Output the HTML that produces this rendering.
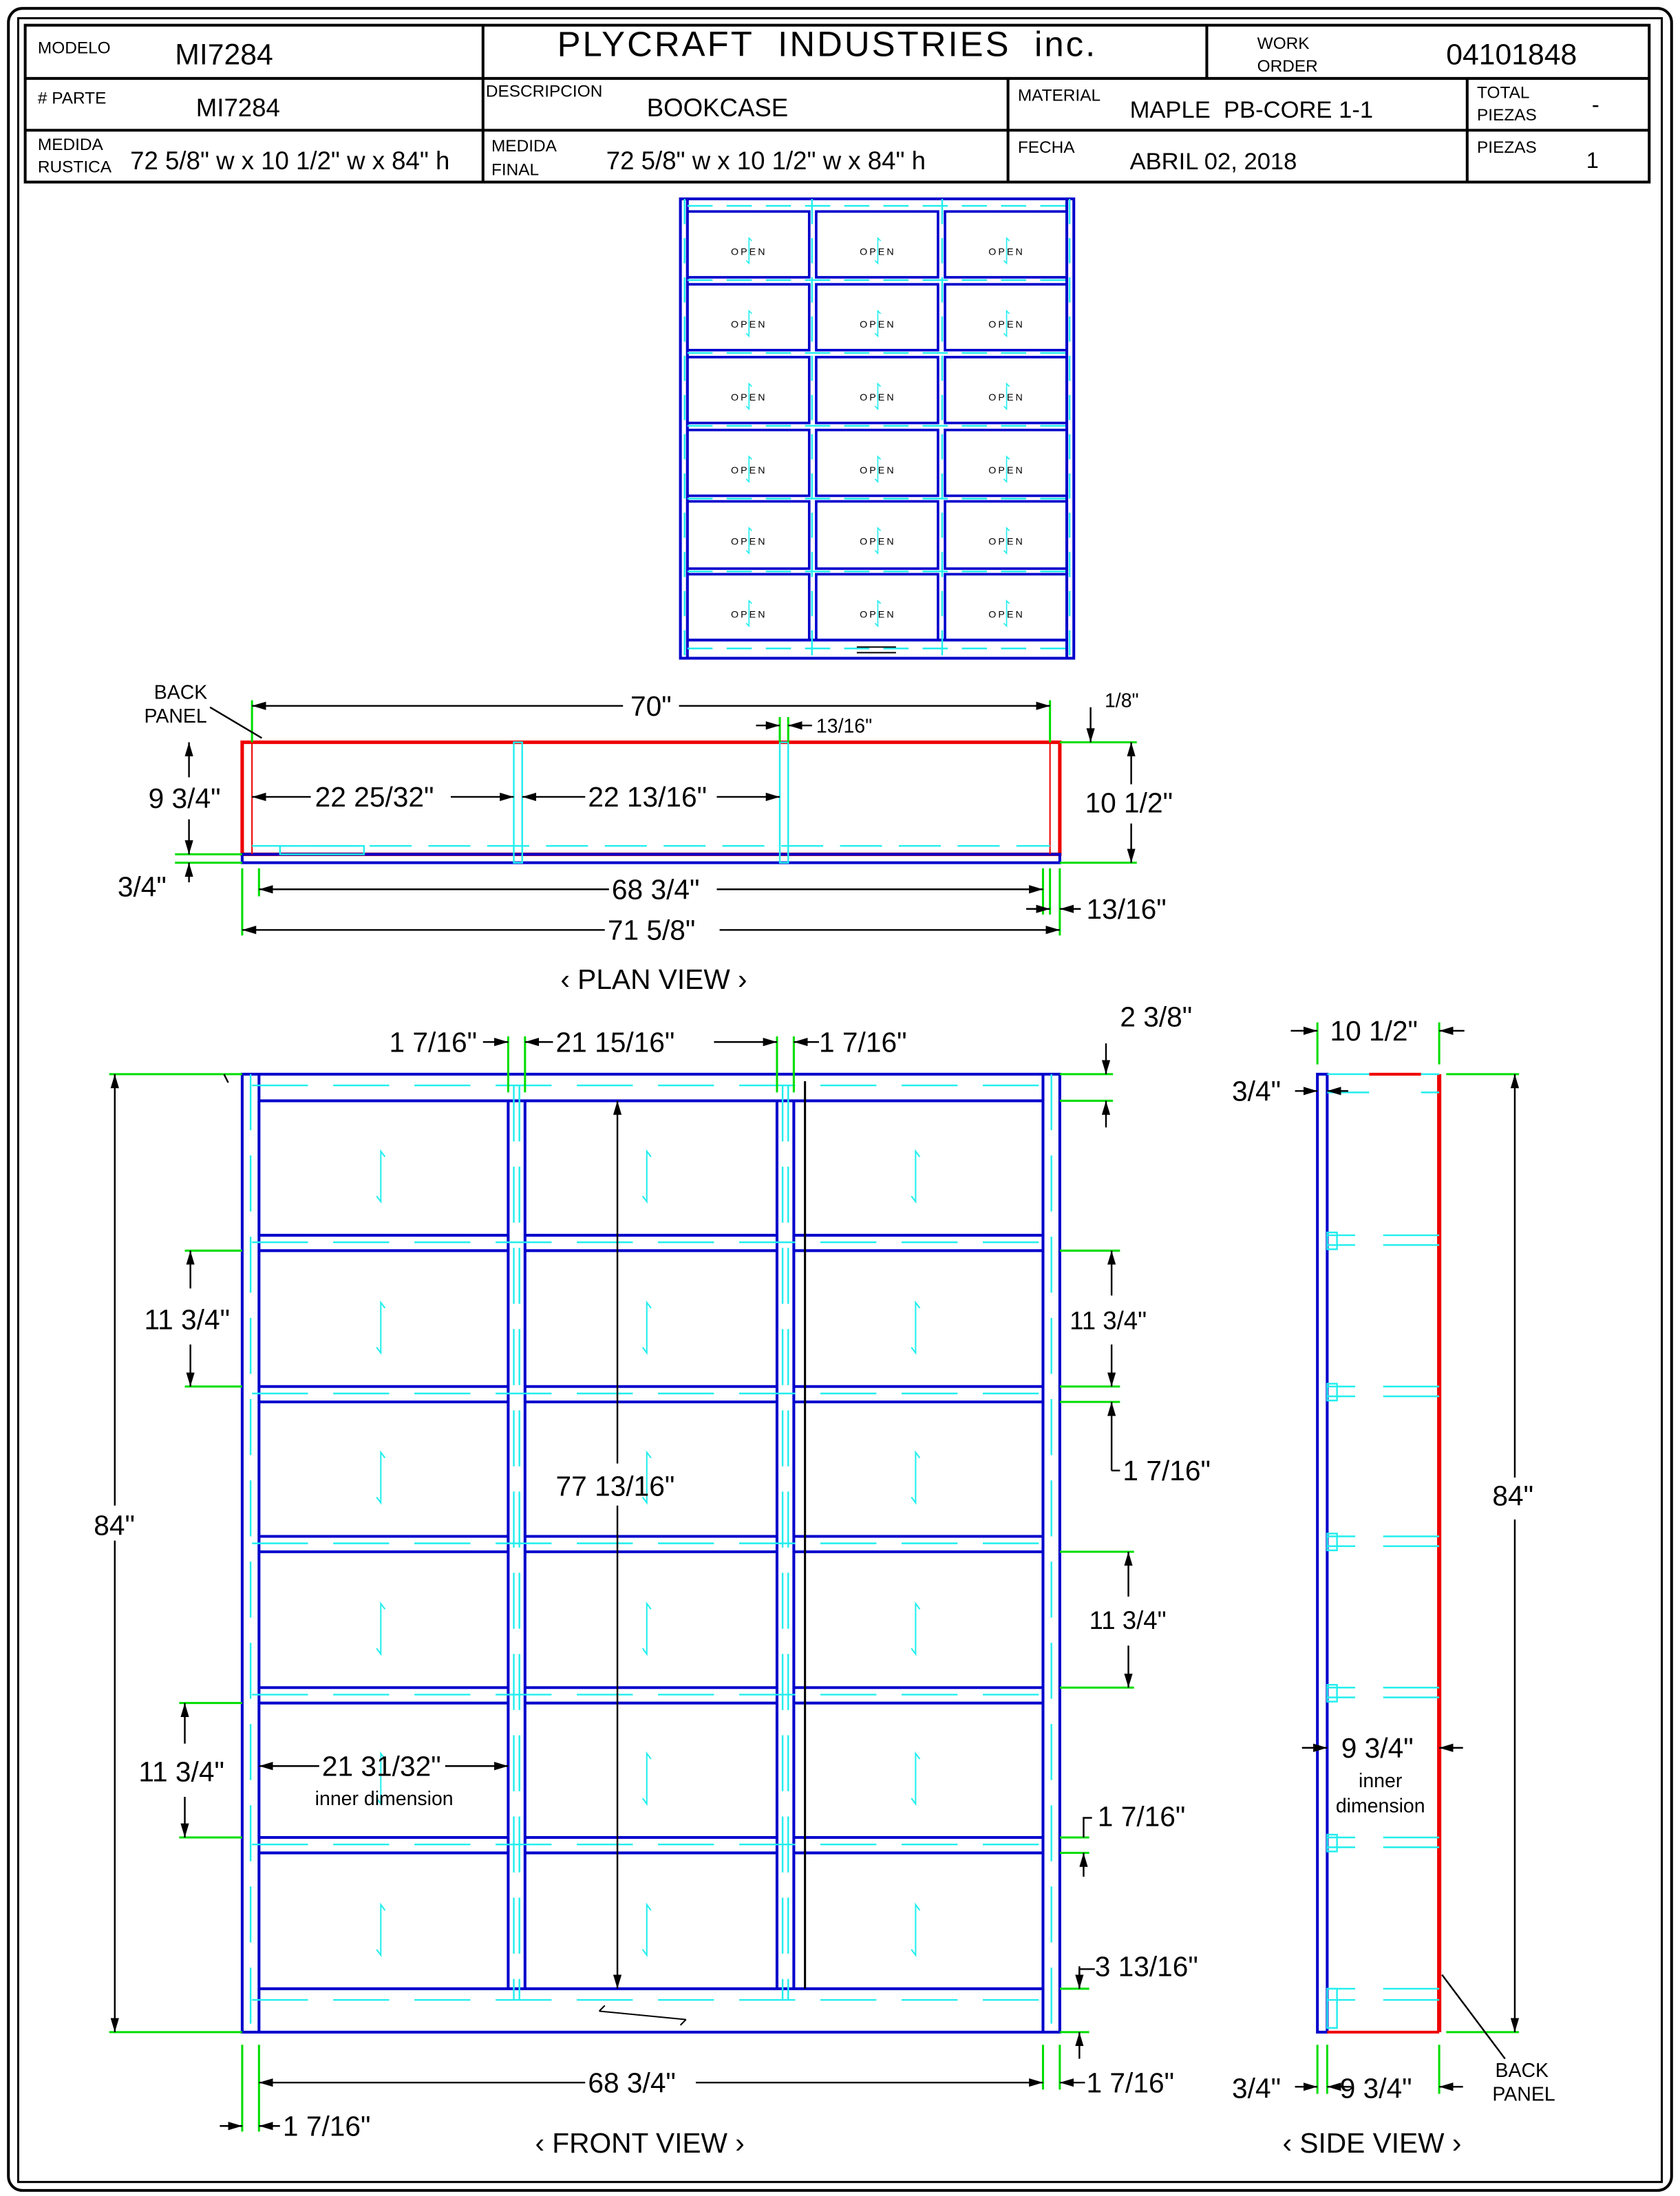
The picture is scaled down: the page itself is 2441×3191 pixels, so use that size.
<!DOCTYPE html>
<html><head><meta charset="utf-8"><style>
html,body{margin:0;padding:0;background:#fff}
svg{display:block}
text{font-family:"Liberation Sans Narrow","Liberation Sans",sans-serif;fill:#000}
</style></head><body>
<svg width="2441" height="3191" viewBox="0 0 1200 1568" preserveAspectRatio="none" xmlns="http://www.w3.org/2000/svg">
<defs>
<marker id="a" viewBox="0 0 10 6" refX="10" refY="3" markerWidth="10" markerHeight="6" markerUnits="userSpaceOnUse" orient="auto-start-reverse"><path d="M0,0 L10,3 L0,6 Z" fill="#000"/></marker>
<g id="gr"><path d="M3,-14 L0,-18 L0,18 L-3,14" fill="none" stroke="#2ee" stroke-width="1"/></g>
<g id="gs"><path d="M2,-7 L0,-9 L0,9 L-2,7" fill="none" stroke="#2ee" stroke-width="0.8"/></g>
</defs>
<rect x="0" y="0" width="1200" height="1568" fill="#fff"/>
<rect x="6" y="6" width="1188" height="1558" rx="10" fill="none" stroke="#000" stroke-width="2"/>
<rect x="13" y="13" width="1174" height="1545" fill="none" stroke="#000" stroke-width="1.5"/>

<!-- title block -->
<g stroke="#000" stroke-width="2" fill="none">
<rect x="18" y="18" width="1160" height="112"/>
<line x1="18" y1="56" x2="1178" y2="56"/>
<line x1="18" y1="93" x2="1178" y2="93"/>
<line x1="345" y1="18" x2="345" y2="130"/>
<line x1="862" y1="18" x2="862" y2="56"/>
<line x1="720" y1="56" x2="720" y2="130"/>
<line x1="1048" y1="56" x2="1048" y2="130"/>
</g>
<text x="27" y="38" font-size="12">MODELO</text>
<text x="125" y="46" font-size="21">MI7284</text>
<text x="398" y="40" font-size="25" letter-spacing="1.5">PLYCRAFT&#160;&#160;INDUSTRIES&#160;&#160;inc.</text>
<text x="898" y="35" font-size="12">WORK</text>
<text x="898" y="51" font-size="12">ORDER</text>
<text x="1033" y="46" font-size="21">04101848</text>
<text x="27" y="74" font-size="12"># PARTE</text>
<text x="140" y="83" font-size="18">MI7284</text>
<text x="347" y="69" font-size="12">DESCRIPCION</text>
<text x="462" y="83" font-size="18">BOOKCASE</text>
<text x="727" y="72" font-size="12">MATERIAL</text>
<text x="807" y="84" font-size="17">MAPLE&#160; PB-CORE 1-1</text>
<text x="1055" y="70" font-size="12">TOTAL</text>
<text x="1055" y="86" font-size="12">PIEZAS</text>
<text x="1137" y="80" font-size="16">-</text>
<text x="27" y="107" font-size="12">MEDIDA</text>
<text x="27" y="123" font-size="12">RUSTICA</text>
<text x="93" y="121" font-size="18">72 5/8" w x 10 1/2" w x 84" h</text>
<text x="351" y="108" font-size="12">MEDIDA</text>
<text x="351" y="125" font-size="12">FINAL</text>
<text x="433" y="121" font-size="18">72 5/8" w x 10 1/2" w x 84" h</text>
<text x="727" y="109" font-size="12">FECHA</text>
<text x="807" y="121" font-size="17">ABRIL 02, 2018</text>
<text x="1055" y="109" font-size="12">PIEZAS</text>
<text x="1133" y="120" font-size="16">1</text>

<!-- top small elevation -->
<g fill="none" stroke="#00c" stroke-width="2">
<rect x="486" y="142" width="281" height="328"/>
<line x1="491" y1="142" x2="491" y2="470"/>
<line x1="762" y1="142" x2="762" y2="470"/>
<line x1="491" y1="457" x2="762" y2="457"/>
</g>
<g fill="none" stroke="#00c" stroke-width="1.8">
<rect x="491" y="151" width="87" height="47"/><rect x="583" y="151" width="87" height="47"/><rect x="675" y="151" width="87" height="47"/>
<rect x="491" y="203" width="87" height="47"/><rect x="583" y="203" width="87" height="47"/><rect x="675" y="203" width="87" height="47"/>
<rect x="491" y="255" width="87" height="47"/><rect x="583" y="255" width="87" height="47"/><rect x="675" y="255" width="87" height="47"/>
<rect x="491" y="307" width="87" height="47"/><rect x="583" y="307" width="87" height="47"/><rect x="675" y="307" width="87" height="47"/>
<rect x="491" y="358" width="87" height="48"/><rect x="583" y="358" width="87" height="48"/><rect x="675" y="358" width="87" height="48"/>
<rect x="491" y="410" width="87" height="47"/><rect x="583" y="410" width="87" height="47"/><rect x="675" y="410" width="87" height="47"/>
</g>
<g stroke="#2ee" stroke-width="1.2" stroke-dasharray="18,10" fill="none">
<line x1="491" y1="147" x2="762" y2="147"/><line x1="491" y1="200" x2="762" y2="200"/><line x1="491" y1="252" x2="762" y2="252"/>
<line x1="491" y1="304" x2="762" y2="304"/><line x1="491" y1="356" x2="762" y2="356"/><line x1="491" y1="408" x2="762" y2="408"/>
<line x1="491" y1="463" x2="762" y2="463"/>
<line x1="489" y1="142" x2="489" y2="470"/><line x1="580" y1="142" x2="580" y2="470"/><line x1="673" y1="142" x2="673" y2="470"/><line x1="764" y1="142" x2="764" y2="470"/>
</g>
<g font-size="7" letter-spacing="1.5" text-anchor="middle">
<text x="535" y="182">OPEN</text><text x="627" y="182">OPEN</text><text x="719" y="182">OPEN</text>
<text x="535" y="234">OPEN</text><text x="627" y="234">OPEN</text><text x="719" y="234">OPEN</text>
<text x="535" y="286">OPEN</text><text x="627" y="286">OPEN</text><text x="719" y="286">OPEN</text>
<text x="535" y="338">OPEN</text><text x="627" y="338">OPEN</text><text x="719" y="338">OPEN</text>
<text x="535" y="389">OPEN</text><text x="627" y="389">OPEN</text><text x="719" y="389">OPEN</text>
<text x="535" y="441">OPEN</text><text x="627" y="441">OPEN</text><text x="719" y="441">OPEN</text>
</g>
<g>
<use href="#gs" x="535" y="179"/><use href="#gs" x="627" y="179"/><use href="#gs" x="719" y="179"/>
<use href="#gs" x="535" y="231"/><use href="#gs" x="627" y="231"/><use href="#gs" x="719" y="231"/>
<use href="#gs" x="535" y="283"/><use href="#gs" x="627" y="283"/><use href="#gs" x="719" y="283"/>
<use href="#gs" x="535" y="335"/><use href="#gs" x="627" y="335"/><use href="#gs" x="719" y="335"/>
<use href="#gs" x="535" y="386"/><use href="#gs" x="627" y="386"/><use href="#gs" x="719" y="386"/>
<use href="#gs" x="535" y="438"/><use href="#gs" x="627" y="438"/><use href="#gs" x="719" y="438"/>
</g>
<path d="M612,462 L640,462 M612,466 L640,466" stroke="#000" stroke-width="1"/>

<!-- PLAN VIEW -->
<rect x="173" y="530" width="584" height="80" fill="none" stroke="#e00" stroke-width="2.5"/>
<rect x="173" y="610" width="584" height="6" fill="none" stroke="#00c" stroke-width="2"/>
<line x1="180" y1="530" x2="180" y2="610" stroke="#e00" stroke-width="1"/>
<line x1="750" y1="530" x2="750" y2="610" stroke="#e00" stroke-width="1"/>
<g stroke="#2ee" stroke-width="1.2" fill="none">
<line x1="180" y1="604" x2="750" y2="604" stroke-dasharray="30,12"/>
<rect x="367" y="530" width="6" height="86"/>
<rect x="557" y="530" width="6" height="86"/>
<rect x="200" y="604" width="60" height="6"/>
</g>
<g stroke="#0d0" stroke-width="1.5">
<line x1="180" y1="500" x2="180" y2="530"/><line x1="750" y1="500" x2="750" y2="530"/>
<line x1="557" y1="512" x2="557" y2="530"/><line x1="563" y1="512" x2="563" y2="530"/>
<line x1="757" y1="530" x2="812" y2="530"/><line x1="757" y1="616" x2="812" y2="616"/>
<line x1="125" y1="610" x2="173" y2="610"/><line x1="125" y1="616" x2="173" y2="616"/>
<line x1="173" y1="620" x2="173" y2="668"/><line x1="757" y1="620" x2="757" y2="668"/>
<line x1="185" y1="620" x2="185" y2="640"/><line x1="745" y1="620" x2="745" y2="653"/><line x1="750" y1="620" x2="750" y2="653"/>
</g>
<g stroke="#000" stroke-width="1.2" fill="none">
<line x1="180" y1="504" x2="445" y2="504" marker-start="url(#a)"/><line x1="485" y1="504" x2="750" y2="504" marker-end="url(#a)"/>
<line x1="540" y1="518" x2="557" y2="518" marker-end="url(#a)"/><line x1="563" y1="518" x2="580" y2="518" marker-start="url(#a)"/>
<line x1="180" y1="569" x2="222" y2="569" marker-start="url(#a)"/><line x1="322" y1="569" x2="367" y2="569" marker-end="url(#a)"/>
<line x1="373" y1="569" x2="418" y2="569" marker-start="url(#a)"/><line x1="512" y1="569" x2="557" y2="569" marker-end="url(#a)"/>
<line x1="135" y1="530" x2="135" y2="555" marker-start="url(#a)"/><line x1="135" y1="585" x2="135" y2="610" marker-end="url(#a)"/>
<line x1="135" y1="630" x2="135" y2="616" marker-end="url(#a)"/>
<line x1="808" y1="530" x2="808" y2="560" marker-start="url(#a)"/><line x1="808" y1="588" x2="808" y2="616" marker-end="url(#a)"/>
<line x1="779" y1="505" x2="779" y2="530" marker-end="url(#a)"/>
<line x1="185" y1="635" x2="435" y2="635" marker-start="url(#a)"/><line x1="512" y1="635" x2="745" y2="635" marker-end="url(#a)"/>
<line x1="173" y1="664" x2="432" y2="664" marker-start="url(#a)"/><line x1="514" y1="664" x2="757" y2="664" marker-end="url(#a)"/>
<line x1="733" y1="649" x2="750" y2="649" marker-end="url(#a)"/><line x1="772" y1="649" x2="757" y2="649" marker-end="url(#a)"/>
<line x1="150" y1="505" x2="187" y2="527"/>
</g>
<text x="465" y="511" font-size="20" text-anchor="middle">70"</text>
<text x="583" y="523" font-size="14">13/16"</text>
<text x="789" y="505" font-size="14">1/8"</text>
<text x="225" y="576" font-size="20">22 25/32"</text>
<text x="420" y="576" font-size="20">22 13/16"</text>
<text x="106" y="577" font-size="20">9 3/4"</text>
<text x="84" y="640" font-size="20">3/4"</text>
<text x="775" y="580" font-size="20">10 1/2"</text>
<text x="437" y="642" font-size="20">68 3/4"</text>
<text x="434" y="671" font-size="20">71 5/8"</text>
<text x="776" y="656" font-size="20">13/16"</text>
<text x="110" y="499" font-size="14">BACK</text>
<text x="103" y="516" font-size="14">PANEL</text>
<text x="467" y="706" font-size="20" text-anchor="middle">&#8249; PLAN VIEW &#8250;</text>

<!-- FRONT VIEW -->
<g fill="none" stroke="#00c" stroke-width="2">
<rect x="173" y="767" width="584" height="684"/>
<line x1="185" y1="767" x2="185" y2="1451"/><line x1="745" y1="767" x2="745" y2="1451"/>
<line x1="185" y1="786" x2="745" y2="786"/>
<line x1="185" y1="1420" x2="745" y2="1420"/>
<line x1="363" y1="786" x2="363" y2="1420"/><line x1="375" y1="786" x2="375" y2="1420"/>
<line x1="555" y1="786" x2="555" y2="1420"/><line x1="567" y1="786" x2="567" y2="1420"/>
<path d="M185,882 H363 M375,882 H555 M567,882 H745 M185,893 H363 M375,893 H555 M567,893 H745"/>
<path d="M185,990 H363 M375,990 H555 M567,990 H745 M185,1001 H363 M375,1001 H555 M567,1001 H745"/>
<path d="M185,1097 H363 M375,1097 H555 M567,1097 H745 M185,1108 H363 M375,1108 H555 M567,1108 H745"/>
<path d="M185,1205 H363 M375,1205 H555 M567,1205 H745 M185,1216 H363 M375,1216 H555 M567,1216 H745"/>
<path d="M185,1312 H363 M375,1312 H555 M567,1312 H745 M185,1323 H363 M375,1323 H555 M567,1323 H745"/>
</g>
<g stroke="#2ee" stroke-width="1.2" fill="none" stroke-dasharray="40,18">
<line x1="180" y1="775" x2="750" y2="775"/>
<line x1="180" y1="887" x2="750" y2="887"/><line x1="180" y1="995" x2="750" y2="995"/>
<line x1="180" y1="1102" x2="750" y2="1102"/><line x1="180" y1="1210" x2="750" y2="1210"/>
<line x1="180" y1="1317" x2="750" y2="1317"/><line x1="180" y1="1428" x2="750" y2="1428"/>
<line x1="179" y1="767" x2="179" y2="1451"/><line x1="751" y1="767" x2="751" y2="1451"/>
<line x1="367" y1="775" x2="367" y2="1428"/><line x1="371" y1="775" x2="371" y2="1428"/>
<line x1="559" y1="775" x2="559" y2="1428"/><line x1="563" y1="775" x2="563" y2="1428"/>
</g>
<g>
<use href="#gr" x="272" y="840"/><use href="#gr" x="462" y="840"/><use href="#gr" x="654" y="840"/>
<use href="#gr" x="272" y="948"/><use href="#gr" x="462" y="948"/><use href="#gr" x="654" y="948"/>
<use href="#gr" x="272" y="1055"/><use href="#gr" x="462" y="1055"/><use href="#gr" x="654" y="1055"/>
<use href="#gr" x="272" y="1163"/><use href="#gr" x="462" y="1163"/><use href="#gr" x="654" y="1163"/>
<use href="#gr" x="272" y="1270"/><use href="#gr" x="462" y="1270"/><use href="#gr" x="654" y="1270"/>
<use href="#gr" x="272" y="1378"/><use href="#gr" x="462" y="1378"/><use href="#gr" x="654" y="1378"/>
</g>
<path d="M428,1436 L490,1442 M428,1436 L432,1432 M490,1442 L486,1446" stroke="#000" stroke-width="1" fill="none"/>
<line x1="575" y1="772" x2="575" y2="1420" stroke="#000" stroke-width="1.5"/>
<g stroke="#0d0" stroke-width="1.5">
<line x1="78" y1="767" x2="173" y2="767"/><line x1="78" y1="1451" x2="173" y2="1451"/>
<line x1="363" y1="740" x2="363" y2="780"/><line x1="375" y1="740" x2="375" y2="780"/>
<line x1="555" y1="740" x2="555" y2="780"/><line x1="567" y1="740" x2="567" y2="780"/>
<line x1="757" y1="767" x2="795" y2="767"/><line x1="757" y1="786" x2="795" y2="786"/>
<line x1="132" y1="893" x2="173" y2="893"/><line x1="132" y1="990" x2="173" y2="990"/>
<line x1="757" y1="893" x2="800" y2="893"/><line x1="757" y1="990" x2="800" y2="990"/><line x1="757" y1="1001" x2="800" y2="1001"/>
<line x1="757" y1="1108" x2="810" y2="1108"/><line x1="757" y1="1205" x2="810" y2="1205"/>
<line x1="128" y1="1216" x2="173" y2="1216"/><line x1="128" y1="1312" x2="173" y2="1312"/>
<line x1="757" y1="1312" x2="778" y2="1312"/><line x1="757" y1="1323" x2="778" y2="1323"/>
<line x1="757" y1="1420" x2="778" y2="1420"/><line x1="757" y1="1451" x2="778" y2="1451"/>
<line x1="173" y1="1460" x2="173" y2="1522"/><line x1="185" y1="1460" x2="185" y2="1522"/>
<line x1="745" y1="1460" x2="745" y2="1492"/><line x1="757" y1="1460" x2="757" y2="1492"/>
</g>
<g stroke="#000" stroke-width="1.2" fill="none">
<line x1="82" y1="1075" x2="82" y2="767" marker-end="url(#a)"/><line x1="82" y1="1100" x2="82" y2="1451" marker-end="url(#a)"/>
<line x1="441" y1="1045" x2="441" y2="786" marker-end="url(#a)"/><line x1="441" y1="1075" x2="441" y2="1420" marker-end="url(#a)"/>
<line x1="345" y1="744" x2="363" y2="744" marker-end="url(#a)"/>
<line x1="375" y1="744" x2="395" y2="744" marker-start="url(#a)"/><line x1="510" y1="744" x2="555" y2="744" marker-end="url(#a)"/>
<line x1="585" y1="744" x2="567" y2="744" marker-end="url(#a)"/>
<line x1="790" y1="745" x2="790" y2="767" marker-end="url(#a)"/><line x1="790" y1="805" x2="790" y2="786" marker-end="url(#a)"/>
<line x1="136" y1="920" x2="136" y2="893" marker-end="url(#a)"/><line x1="136" y1="960" x2="136" y2="990" marker-end="url(#a)"/>
<line x1="794" y1="925" x2="794" y2="893" marker-end="url(#a)"/><line x1="794" y1="960" x2="794" y2="990" marker-end="url(#a)"/>
<polyline points="794,1050 794,1020"/><line x1="794" y1="1020" x2="794" y2="1001" marker-end="url(#a)"/>
<line x1="794" y1="1050" x2="800" y2="1050"/>
<line x1="806" y1="1140" x2="806" y2="1108" marker-end="url(#a)"/><line x1="806" y1="1175" x2="806" y2="1205" marker-end="url(#a)"/>
<line x1="132" y1="1245" x2="132" y2="1216" marker-end="url(#a)"/><line x1="132" y1="1283" x2="132" y2="1312" marker-end="url(#a)"/>
<polyline points="780,1298 774,1298 774,1312"/><line x1="774" y1="1340" x2="774" y2="1323" marker-end="url(#a)"/>
<polyline points="782,1406 771,1406 771,1420"/><line x1="771" y1="1404" x2="771" y2="1420" marker-end="url(#a)"/><line x1="771" y1="1470" x2="771" y2="1451" marker-end="url(#a)"/>
<line x1="185" y1="1284" x2="185" y2="1284"/>
<line x1="185" y1="1261" x2="228" y2="1261" marker-start="url(#a)"/><line x1="318" y1="1261" x2="363" y2="1261" marker-end="url(#a)"/>
<line x1="185" y1="1487" x2="418" y2="1487" marker-start="url(#a)"/><line x1="497" y1="1487" x2="745" y2="1487" marker-end="url(#a)"/>
<line x1="775" y1="1487" x2="757" y2="1487" marker-end="url(#a)"/>
<line x1="157" y1="1518" x2="173" y2="1518" marker-end="url(#a)"/><line x1="200" y1="1518" x2="185" y2="1518" marker-end="url(#a)"/>
<line x1="160" y1="767" x2="163" y2="773"/>
</g>
<text x="67" y="1096" font-size="20">84"</text>
<text x="397" y="1068" font-size="20">77 13/16"</text>
<text x="278" y="751" font-size="20">1 7/16"</text>
<text x="397" y="751" font-size="20">21 15/16"</text>
<text x="585" y="751" font-size="20">1 7/16"</text>
<text x="800" y="733" font-size="20">2 3/8"</text>
<text x="103" y="949" font-size="20">11 3/4"</text>
<text x="764" y="949" font-size="18">11 3/4"</text>
<text x="802" y="1057" font-size="20">1 7/16"</text>
<text x="778" y="1163" font-size="18">11 3/4"</text>
<text x="99" y="1272" font-size="20">11 3/4"</text>
<text x="230" y="1268" font-size="20">21 31/32"</text>
<text x="225" y="1289" font-size="14">inner dimension</text>
<text x="784" y="1304" font-size="20">1 7/16"</text>
<text x="782" y="1411" font-size="20">3 13/16"</text>
<text x="420" y="1494" font-size="20">68 3/4"</text>
<text x="776" y="1494" font-size="20">1 7/16"</text>
<text x="202" y="1525" font-size="20">1 7/16"</text>
<text x="457" y="1537" font-size="20" text-anchor="middle">&#8249; FRONT VIEW &#8250;</text>

<!-- SIDE VIEW -->
<rect x="941" y="767" width="7" height="684" fill="none" stroke="#00c" stroke-width="2"/>
<line x1="1028" y1="767" x2="1028" y2="1451" stroke="#e00" stroke-width="3"/>
<line x1="948" y1="1451" x2="1028" y2="1451" stroke="#e00" stroke-width="2"/>
<line x1="978" y1="767" x2="1015" y2="767" stroke="#e00" stroke-width="2"/>
<g stroke="#2ee" stroke-width="1.2" fill="none">
<path d="M948,767 H978 M1015,767 H1028 M948,780 H978 M1015,780 H1028"/>
<path d="M948,882 H968 M988,882 H1028 M948,889 H968 M988,889 H1028"/><rect x="948" y="880" width="7" height="12"/>
<path d="M948,990 H968 M988,990 H1028 M948,997 H968 M988,997 H1028"/><rect x="948" y="988" width="7" height="12"/>
<path d="M948,1097 H968 M988,1097 H1028 M948,1104 H968 M988,1104 H1028"/><rect x="948" y="1095" width="7" height="12"/>
<path d="M948,1205 H968 M988,1205 H1028 M948,1212 H968 M988,1212 H1028"/><rect x="948" y="1203" width="7" height="12"/>
<path d="M948,1312 H968 M988,1312 H1028 M948,1319 H968 M988,1319 H1028"/><rect x="948" y="1310" width="7" height="12"/>
<path d="M948,1420 H968 M988,1420 H1028 M948,1428 H968 M988,1428 H1028"/><rect x="948" y="1420" width="7" height="28"/>
</g>
<g stroke="#0d0" stroke-width="1.5">
<line x1="941" y1="730" x2="941" y2="760"/><line x1="1028" y1="730" x2="1028" y2="760"/>
<line x1="1033" y1="767" x2="1085" y2="767"/><line x1="1033" y1="1451" x2="1085" y2="1451"/>
<line x1="941" y1="1460" x2="941" y2="1495"/><line x1="948" y1="1460" x2="948" y2="1495"/><line x1="1028" y1="1460" x2="1028" y2="1495"/>
</g>
<g stroke="#000" stroke-width="1.2" fill="none">
<line x1="922" y1="736" x2="941" y2="736" marker-end="url(#a)"/><line x1="1046" y1="736" x2="1028" y2="736" marker-end="url(#a)"/>
<line x1="925" y1="779" x2="941" y2="779" marker-end="url(#a)"/><line x1="963" y1="779" x2="948" y2="779" marker-end="url(#a)"/>
<line x1="1082" y1="1055" x2="1082" y2="767" marker-end="url(#a)"/><line x1="1082" y1="1085" x2="1082" y2="1451" marker-end="url(#a)"/>
<line x1="930" y1="1248" x2="948" y2="1248" marker-end="url(#a)"/><line x1="1045" y1="1248" x2="1028" y2="1248" marker-end="url(#a)"/>
<line x1="925" y1="1490" x2="941" y2="1490" marker-end="url(#a)"/><line x1="965" y1="1490" x2="948" y2="1490" marker-end="url(#a)"/>
<line x1="1045" y1="1490" x2="1028" y2="1490" marker-end="url(#a)"/>
<line x1="1030" y1="1410" x2="1075" y2="1470"/>
</g>
<text x="950" y="743" font-size="20">10 1/2"</text>
<text x="880" y="786" font-size="20">3/4"</text>
<text x="1066" y="1075" font-size="20">84"</text>
<text x="958" y="1255" font-size="20">9 3/4"</text>
<text x="986" y="1276" font-size="14" text-anchor="middle">inner</text>
<text x="986" y="1294" font-size="14" text-anchor="middle">dimension</text>
<text x="880" y="1498" font-size="20">3/4"</text>
<text x="957" y="1498" font-size="20">9 3/4"</text>
<text x="1068" y="1483" font-size="14">BACK</text>
<text x="1066" y="1500" font-size="14">PANEL</text>
<text x="980" y="1537" font-size="20" text-anchor="middle">&#8249; SIDE VIEW &#8250;</text>
</svg>
</body></html>
